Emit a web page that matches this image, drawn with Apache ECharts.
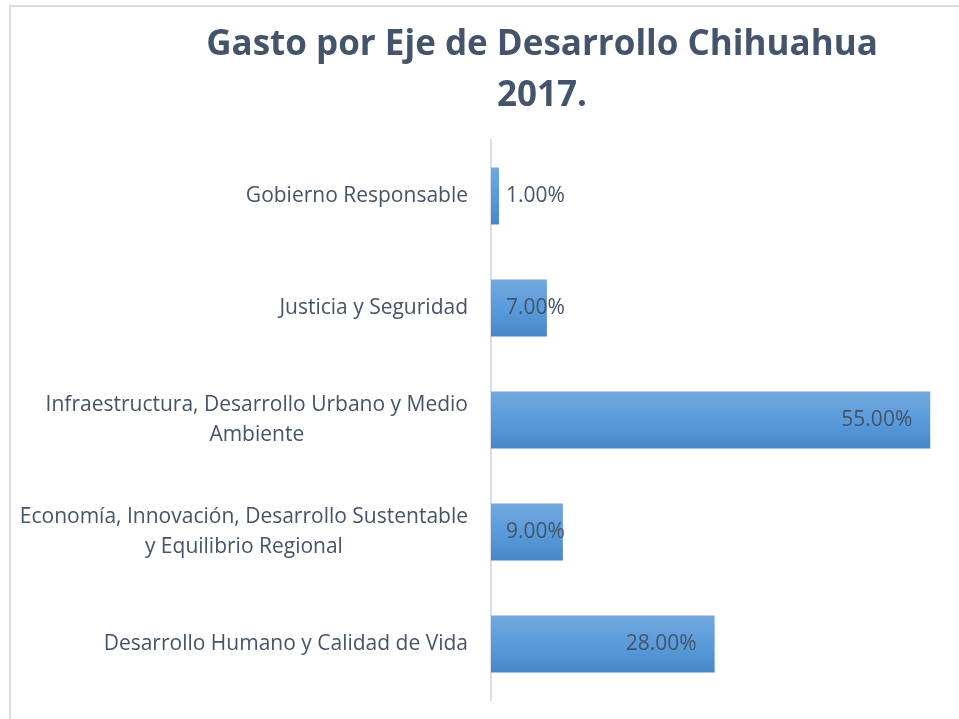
<!DOCTYPE html>
<html>
<head>
<meta charset="utf-8">
<script src="https://cdn.jsdelivr.net/npm/echarts@6/dist/echarts.min.js"></script>
<style>
  html, body { margin: 0; padding: 0; background: #fff; overflow: hidden; }
  #chartWrap { width: 959px; height: 719px; }
</style>
</head>
<body>
<div id="chartWrap"></div>
<script>
// datos (de abajo hacia arriba, como los dibuja el eje de categorias)
var categorias = [
    'Desarrollo Humano y Calidad de Vida',
    'Economía, Innovación, Desarrollo Sustentable\ny Equilibrio Regional',
    'Infraestructura, Desarrollo Urbano y Medio\nAmbiente',
    'Justicia y Seguridad',
    'Gobierno Responsable'
];
var porcentajes = [28, 9, 55, 7, 1];
var titulo = 'Gasto por Eje de Desarrollo Chihuahua\n2017.';

var colorTexto = '#44546A';
var fuente = '"Open Sans", sans-serif';

var myChart = echarts.init(document.getElementById('chartWrap'));

// etiquetas: dentro al final si cabe, si no pegada a la base (como Excel)
var serieData = porcentajes.map(function (v) {
    var chica = v < 12;
    return {
        value: v,
        label: {
            position: chica ? 'insideLeft' : 'insideRight',
            distance: chica ? 15 : 18
        }
    };
});

var option = {
    backgroundColor: '#fff',
    animation: false,
    title: {
        text: titulo,
        left: 537,
        top: 15,
        textAlign: 'center',
        textStyle: {
            fontFamily: fuente,
            fontWeight: 'bold',
            fontSize: 35,
            lineHeight: 51,
            color: colorTexto
        }
    },
    // marco del grafico (solo se ven los bordes superior e izquierdo)
    graphic: [{
        type: 'polyline',
        shape: { points: [[10, 725], [10, 6], [959, 6]] },
        style: { fill: null, stroke: '#D9DDE3', lineWidth: 2 },
        silent: true,
        z: -1
    }],
    grid: {
        left: 491,
        top: 140,
        right: 0,
        height: 560
    },
    xAxis: {
        type: 'value',
        min: 0,
        max: 58.6,
        show: false
    },
    yAxis: {
        type: 'category',
        data: categorias,
        axisLine: { show: true, lineStyle: { color: '#D9DDE3', width: 2 } },
        axisTick: { show: false },
        axisLabel: {
            margin: 23,
            formatter: function (v) {
                return v.split('\n').map(function (l) { return '{c|' + l + '}'; }).join('\n');
            },
            rich: {
                c: {
                    align: 'center',
                    fontFamily: fuente,
                    fontSize: 21,
                    lineHeight: 30,
                    color: colorTexto
                }
            }
        }
    },
    series: [{
        type: 'bar',
        data: serieData,
        barWidth: 57,
        itemStyle: {
            color: new echarts.graphic.LinearGradient(0, 0, 0, 1, [
                { offset: 0, color: '#72A8DD' },
                { offset: 0.5, color: '#5A9BDB' },
                { offset: 1, color: '#4788C8' }
            ])
        },
        label: {
            show: true,
            fontFamily: fuente,
            fontSize: 21,
            color: colorTexto,
            formatter: function (p) { return p.value.toFixed(2) + '%'; }
        }
    }]
};

myChart.setOption(option);
</script>
</body>
</html>
